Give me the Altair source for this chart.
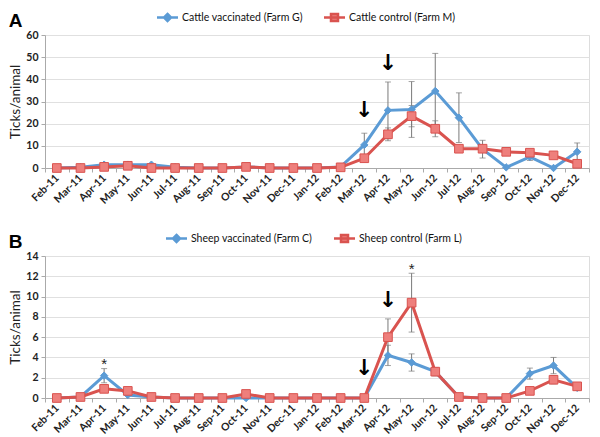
import altair as alt
import pandas as pd

months = ["Feb-11", "Mar-11", "Apr-11", "May-11", "Jun-11", "Jul-11", "Aug-11",
          "Sep-11", "Oct-11", "Nov-11", "Dec-11", "Jan-12", "Feb-12", "Mar-12",
          "Apr-12", "May-12", "Jun-12", "Jul-12", "Aug-12", "Sep-12", "Oct-12",
          "Nov-12", "Dec-12"]

# Panel A: cattle
cattle_names = ["Cattle vaccinated (Farm G)", "Cattle control (Farm M)"]
cattle_vacc = [0, 0.3, 1.5, 1.5, 1.5, 0.3, 0, 0, 0.5, 0, 0, 0, 0.5,
               10.4, 26.0, 26.4, 34.7, 22.7, 8.5, 0.3, 5.0, 0, 7.3]
cattle_vacc_err = [0, 0, 0, 0, 0, 0, 0, 0, 0, 0, 0, 0, 0,
                   5.3, 12.8, 12.6, 17.0, 11.2, 4.0, 0, 1.6, 0, 4.0]
cattle_ctrl = [0, 0, 0.5, 1.0, 0, 0, 0, 0, 0.5, 0, 0, 0, 0.3,
               4.4, 15.2, 23.4, 17.7, 8.7, 8.7, 7.3, 6.9, 5.7, 1.9]
cattle_ctrl_err = [0, 0, 0, 0, 0, 0, 0, 0, 0, 0, 0, 0, 0,
                   1.5, 2.9, 4.8, 3.6, 1.0, 1.5, 0.5, 0.5, 0.5, 0.5]
cattle_arrow_months = ["Mar-12", "Apr-12"]
cattle_arrow_y = [26.3, 47.5]

# Panel B: sheep
sheep_names = ["Sheep vaccinated (Farm C)", "Sheep control (Farm L)"]
sheep_vacc = [0, 0.1, 2.2, 0.3, 0.1, 0, 0, 0, 0, 0, 0, 0, 0,
              0, 4.2, 3.5, 2.6, 0.1, 0, 0, 2.4, 3.2, 1.0]
sheep_vacc_err = [0, 0, 0.7, 0, 0, 0, 0, 0, 0, 0, 0, 0, 0,
                  0, 1.0, 0.85, 0.4, 0, 0, 0, 0.55, 0.8, 0.2]
sheep_ctrl = [0, 0.1, 0.9, 0.7, 0.1, 0, 0, 0, 0.4, 0, 0, 0, 0,
              0, 6.0, 9.4, 2.6, 0.1, 0, 0, 0.7, 1.8, 1.15]
sheep_ctrl_err = [0, 0, 0.2, 0, 0, 0, 0, 0, 0, 0, 0, 0, 0,
                  0, 1.8, 2.9, 0.4, 0, 0, 0, 0, 0.4, 0]
sheep_arrow_months = ["Mar-12", "Apr-12"]
sheep_arrow_y = [2.96, 9.7]
sheep_star_months = ["Apr-11", "May-12"]
sheep_star_y = [3.4, 12.7]

LINE_COLORS = ["#5B9BD5", "#D9534F"]
FILL_COLORS = ["#5B9BD5", "#EE7F7C"]
LEG_PATHS = ["M-1.5,0L1.5,0M0,-0.5L0.5,0L0,0.5L-0.5,0Z",
             "M-1.5,0L1.5,0M-0.5,-0.5L0.5,-0.5L0.5,0.5L-0.5,0.5Z"]
FONT = "Lato"


def build_df(names, v1, e1, v2, e2):
    rows = []
    for name, vals, errs in [(names[0], v1, e1), (names[1], v2, e2)]:
        for m, v, e in zip(months, vals, errs):
            rows.append({"month": m, "series": name, "value": v, "err": e,
                         "lo": max(v - e, 0), "hi": v + e})
    return pd.DataFrame(rows)


def panel(label, names, df, ymax, ystep, height, arrows, legend_x, stars=None):
    xenc = alt.X("month:N", sort=months, title=None,
                 scale=alt.Scale(type="band", paddingInner=0, paddingOuter=0),
                 axis=alt.Axis(labelAngle=315, labelAlign="right", labelBaseline="middle",
                               labelFontWeight="bold", labelFontSize=10.5, labelColor="#222",
                               labelFont=FONT, tickBand="extent", tickSize=4,
                               tickColor="#aaa", domainColor="#aaa", grid=False,
                               labelPadding=4))
    yscale = alt.Scale(domain=[0, ymax], nice=False)
    yaxis = alt.Axis(values=list(range(0, ymax + 1, ystep)), title="Ticks/animal",
                     titleFontWeight="normal", titleFontSize=13.5, titleFont=FONT,
                     titleColor="#222", labelFontWeight="bold", labelFontSize=10.5,
                     labelFont=FONT, labelColor="#222", gridColor="#e0e0e0",
                     domainColor="#aaa", tickColor="#aaa", tickSize=4, titlePadding=3,
                     labelPadding=3, labelOverlap=False)

    def Y(field):
        return alt.Y(field, scale=yscale, axis=yaxis)

    fill_sc = alt.Scale(domain=names, range=FILL_COLORS)
    stroke_sc = alt.Scale(domain=names, range=LINE_COLORS)

    base = alt.Chart(df)
    err = df[df["err"] > 0]
    leg = alt.Legend(orient="none", direction="horizontal", legendX=legend_x, legendY=-26,
                     title=None, labelFont=FONT, labelFontSize=10.5, labelColor="#111",
                     symbolSize=196, symbolStrokeWidth=2.5, labelOffset=6,
                     columnPadding=16, padding=0)
    legend_layer = base.transform_filter(alt.datum.value < -999).mark_point(
        filled=True, opacity=1).encode(
        x=xenc, y=Y("value:Q"),
        fill=alt.Fill("series:N", scale=fill_sc, legend=leg),
        stroke=alt.Stroke("series:N", scale=stroke_sc, legend=leg),
        shape=alt.Shape("series:N", scale=alt.Scale(domain=names, range=LEG_PATHS),
                        legend=leg))
    rules = alt.Chart(err).mark_rule(color="#7a7a7a", strokeWidth=1).encode(
        x=xenc, y=Y("lo:Q"), y2="hi:Q")
    caps_hi = alt.Chart(err).mark_tick(color="#7a7a7a", size=6, thickness=1).encode(
        x=xenc, y=Y("hi:Q"))
    caps_lo = alt.Chart(err).mark_tick(color="#7a7a7a", size=6, thickness=1).encode(
        x=xenc, y=Y("lo:Q"))
    lines = base.mark_line(strokeWidth=3).encode(
        x=xenc, y=Y("value:Q"),
        stroke=alt.Stroke("series:N", scale=stroke_sc, legend=None),
        detail="series:N")
    pts_v = base.transform_filter(alt.datum.series == names[0]).mark_point(
        shape="diamond", filled=True, size=55, strokeWidth=1, opacity=1).encode(
        x=xenc, y=Y("value:Q"),
        fill=alt.Fill("series:N", scale=fill_sc, legend=None),
        stroke=alt.Stroke("series:N", scale=stroke_sc, legend=None))
    pts_c = base.transform_filter(alt.datum.series == names[1]).mark_point(
        shape="square", filled=True, size=75, strokeWidth=1, opacity=1).encode(
        x=xenc, y=Y("value:Q"),
        fill=alt.Fill("series:N", scale=fill_sc, legend=None),
        stroke=alt.Stroke("series:N", scale=stroke_sc, legend=None))
    adf = pd.DataFrame({"month": arrows[0], "y": arrows[1]})
    arrow_layer = alt.Chart(adf).mark_text(text="↓", fontSize=22, fontWeight="bold",
                                           font="DejaVu Sans", color="#000").encode(
        x=xenc, y=Y("y:Q"))
    layers = [legend_layer, rules, caps_hi, caps_lo, lines, pts_v, pts_c, arrow_layer]
    if stars is not None:
        sdf = pd.DataFrame({"month": stars[0], "y": stars[1]})
        layers.append(alt.Chart(sdf).mark_text(text="*", fontSize=15, font="Liberation Sans",
                                               color="#222").encode(
            x=xenc, y=Y("y:Q")))
    return alt.layer(*layers).properties(
        width=544, height=height,
        title=alt.Title(label, anchor="start", frame="bounds", fontSize=19,
                        font="Liberation Sans", fontWeight="bold", color="#000",
                        offset=-22))


df_a = build_df(cattle_names, cattle_vacc, cattle_vacc_err, cattle_ctrl, cattle_ctrl_err)
df_b = build_df(sheep_names, sheep_vacc, sheep_vacc_err, sheep_ctrl, sheep_ctrl_err)

pa = panel("A", cattle_names, df_a, 60, 10, 133, (cattle_arrow_months, cattle_arrow_y), 114)
pb = panel("B", sheep_names, df_b, 14, 2, 142, (sheep_arrow_months, sheep_arrow_y), 123,
           (sheep_star_months, sheep_star_y))

chart = alt.vconcat(pa, pb, spacing=22).resolve_scale(
    fill="independent", stroke="independent", shape="independent"
).resolve_legend(fill="independent", stroke="independent", shape="independent"
).configure_view(stroke=None).configure(padding=0, background="white")

chart.save("out.html", embed_options={"renderer": "svg", "actions": False})
